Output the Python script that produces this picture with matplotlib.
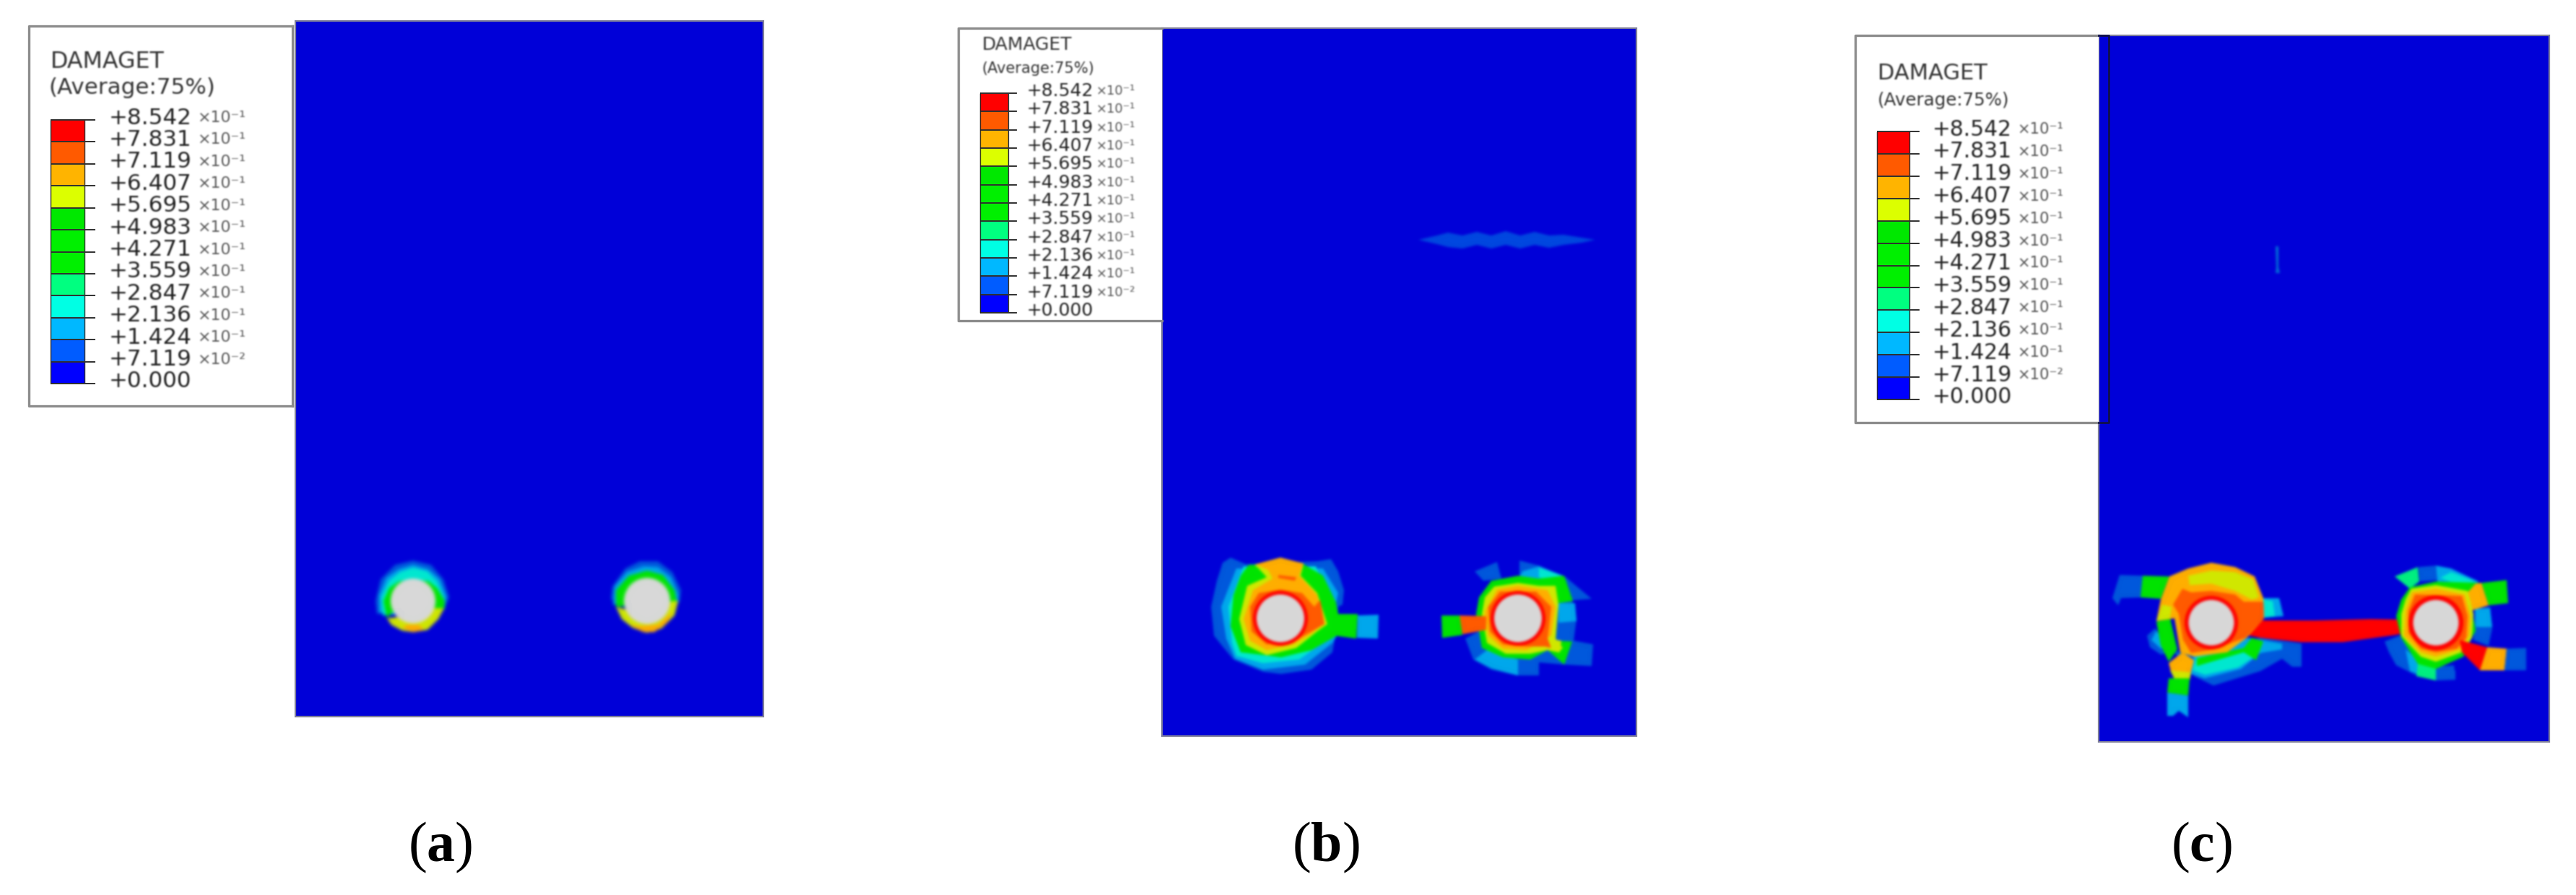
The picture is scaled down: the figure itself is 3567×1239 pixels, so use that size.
"""DAMAGET contour plots of the plate with two holes at three load stages, (a) to (c)."""

import numpy as np
import matplotlib
matplotlib.use("Agg")
import matplotlib.pyplot as plt
from matplotlib.collections import PatchCollection
from matplotlib.patches import Circle, Polygon, Rectangle

plt.rcParams["mathtext.fontset"] = "custom"
plt.rcParams["mathtext.bf"] = "Liberation Serif:bold"

# band colours
RED, RORANGE, ORANGE, YELLOW = "#ff0000", "#ff5a00", "#ffae00", "#d0e800"
GREEN, MINT, TEAL, SKY, AZURE, BLUE = "#00e400", "#00f080", "#00e8d0", "#00a8ec", "#0058dc", "#0000ff"
PLATE, HOLE = "#0000d8", "#d8d8d8"

legend_labels = ["+8.542", "+7.831", "+7.119", "+6.407", "+5.695", "+4.983", "+4.271",
                 "+3.559", "+2.847", "+2.136", "+1.424", "+7.119", "+0.000"]
legend_powers = ["×10⁻¹"] * 11 + ["×10⁻²", ""]
band_colors = ["#ff0000", "#ff5a00", "#ffb400", "#dcff00", "#00e800", "#00f000",
               "#00f000", "#00ff80", "#00ffe4", "#00b8ff", "#005cff", "#0000ff"]
captions = [r"($\mathbf{a}$)", r"($\mathbf{b}$)", r"($\mathbf{c}$)"]

# contour outlines, traced as px offsets from each hole centre, lowest damage first
a_left = [
    (AZURE, [(-50, 18), (-52, 0), (-45, -30), (-25, -50), (0, -56), (25, -50), (42, -30), (50, -5), (44, 8), (0, 12)]),
    (SKY, [(-47, 16), (-47, -8), (-37, -32), (-20, -44), (0, -50), (21, -44), (37, -30), (46, -6), (44, 10)]),
    (TEAL, [(-42, 20), (-44, -5), (-33, -28), (-18, -40), (0, -46), (20, -41), (33, -27), (43, -5), (43, 10)]),
    (GREEN, [(-36, 24), (-41, 0), (-33, -18), (-20, -27), (0, -31), (22, -27), (33, -18), (44, 0), (43, 12), (30, 16), (-30, 16)]),
    (YELLOW, [(-36, 24), (-30, 33), (-15, 41), (0, 43), (20, 40), (35, 25), (43, 10), (30, 10), (0, 20)]),
    (ORANGE, [(-15, 37), (0, 43), (15, 40), (8, 33), (-8, 33)]),
]
a_right = [
    (AZURE, [(-50, -2), (-48, -20), (-30, -45), (-10, -55), (15, -55), (35, -40), (47, -15), (45, 2), (0, 8)]),
    (SKY, [(-47, 5), (-45, -20), (-28, -40), (-5, -48), (15, -47), (33, -33), (43, -10), (43, 2)]),
    (GREEN, [(-43, 8), (-43, -15), (-25, -35), (0, -42), (22, -36), (38, -15), (41, 0), (40, 6), (0, 6)]),
    (YELLOW, [(-43, 8), (-35, 25), (-20, 37), (0, 44), (20, 38), (38, 20), (43, 0), (35, 0), (0, 20)]),
    (ORANGE, [(-25, 33), (-5, 43), (10, 43), (28, 30), (35, 15), (15, 33), (-10, 35)]),
]
b_left = [
    (AZURE, [(-69, -84), (-48, -75), (51, -79), (70, -82), (80, -65), (88, -39), (86, -19), (80, -16), (76, 24),
             (72, 47), (43, 71), (1, 77), (-24, 74), (-65, 57), (-80, 39), (-92, 24), (-96, -16), (-88, -52), (-80, -77)]),
    (SKY, [(-61, -69), (-82, -16), (-75, 28), (-63, 56), (-24, 71), (34, 64), (72, 34), (78, 24), (76, -16), (80, -35), (59, -69)]),
    (TEAL, [(-51, -72), (-72, -16), (-67, 34), (-61, 52), (-24, 62), (26, 57), (72, 24), (76, -6), (49, -72)]),
    (GREEN, [(-44, -74), (32, -75), (59, -59), (77, -22), (80, -6), (78, 24), (43, 44), (1, 54), (-55, 47), (-69, 11), (-65, -32), (-55, -59)]),
    (GREEN, [(78, -6), (107, -6), (105, 28), (76, 24)]),
    (SKY, [(107, -4), (136, -5), (135, 28), (106, 27)]),
    (YELLOW, [(-36, -74), (0, -84), (32, -75), (28, -59), (51, -35), (65, 8), (51, 18), (22, 41), (-19, 51), (-48, 37), (-57, 1), (-46, -45), (-19, -57), (-30, -69)]),
    (ORANGE, [(-34, -75), (0, -84), (32, -76), (26, -59), (51, -32), (59, 8), (43, 21), (18, 36), (-19, 44), (-42, 31), (-51, 1), (-38, -39), (-11, -55), (-17, -67)]),
    (RORANGE, [(0, -40), (30, -35), (47, -16), (55, -26), (61, 8), (47, 16), (18, 32), (-19, 36), (-40, 18), (-42, -16), (-30, -35)]),
    (RORANGE, [(-3, -60), (22, -57), (20, -52), (-3, -56)]),
]
b_right = [
    (AZURE, [(2, -80), (29, -73), (66, -57), (102, -27), (75, -25), (81, 1), (77, 31), (104, 36), (102, 66), (64, 64), (29, 61),
             (29, 79), (-2, 79), (-37, 71), (-62, 57), (-73, 28), (-54, 18), (2, -49)]),
    (AZURE, [(-60, -65), (-29, -78), (-23, -55), (-48, -52)]),
    (SKY, [(2, -57), (6, -65), (29, -72), (62, -59), (50, -45)]),
    (SKY, [(56, -21), (79, -21), (81, 4), (56, 6)]),
    (SKY, [(-60, 57), (-43, 44), (0, 57), (0, 79), (-37, 69)]),
    (TEAL, [(29, -70), (62, -59), (52, -47), (29, -57)]),
    (GREEN, [(-37, -52), (0, -59), (29, -55), (64, -59), (76, -24), (56, -21), (52, 31), (75, 32), (64, 64), (41, 44),
             (17, 57), (-21, 54), (-50, 41), (-58, -6), (-54, -29)]),
    (YELLOW, [(-33, -44), (0, -49), (29, -45), (52, -45), (56, -19), (52, 28), (62, 41), (56, 47), (41, 44), (17, 49), (-17, 49), (-43, 34), (-50, -6), (-46, -29)]),
    (ORANGE, [(-29, -40), (0, -45), (41, -39), (52, -16), (46, 24), (12, 44), (-21, 42), (-41, 24), (-46, -9)]),
    (RORANGE, [(-25, -37), (25, -37), (46, -16), (41, 28), (46, 41), (37, 39), (12, 39), (-21, 36), (-39, 18), (-41, -16)]),
    (YELLOW, [(44, 28), (60, 31), (58, 47), (46, 44)]),
    (GREEN, [(-106, -4), (-80, -4), (-77, 23), (-105, 27)]),
    (RORANGE, [(-81, -4), (-44, -3), (-44, 16), (-77, 22)]),
]
c_left = [
    (AZURE, [(-127, -66), (-95, -65), (-95, -35), (-125, -34), (-129, -24), (-137, -34)]),
    (GREEN, [(-95, -65), (-58, -64), (-70, -33), (-98, -35)]),
    (SKY, [(72, -34), (94, -34), (100, -9), (73, -7)]),
    (TEAL, [(72, -32), (85, -30), (88, -9), (73, -7)]),
    (AZURE, [(-89, 18), (-78, 8), (-24, 74), (3, 87), (68, 67), (98, 50), (112, 61), (125, 61), (125, 29), (68, 21), (-70, 44), (-85, 34)]),
    (SKY, [(52, 21), (98, 29), (98, 37), (68, 42), (41, 64), (-9, 77), (-28, 71), (-24, 44)]),
    (TEAL, [(45, 41), (60, 47), (37, 62), (-9, 72), (-26, 66), (-20, 47)]),
    (SKY, [(-83, 24), (-76, 11), (-62, 34), (-70, 36)]),
    (GREEN, [(-76, -1), (-57, -6), (-47, 37), (-59, 54), (-70, 31)]),
    (GREEN, [(-20, 49), (45, 35), (56, 21), (72, 26), (62, 52), (45, 41), (-20, 60)]),
    (ORANGE, [(-76, -2), (-70, -32), (-58, -64), (-32, -75), (0, -83), (33, -77), (60, -64), (72, -34), (73, -6), (49, 21), (22, 41), (-24, 47), (-43, 41), (-51, -6)]),
    (YELLOW, [(-32, -65), (0, -72), (33, -70), (58, -60), (66, -35), (56, -32), (33, -44), (0, -54), (-30, -52)]),
    (YELLOW, [(-76, -2), (-68, -25), (-55, -22), (-57, -6)]),
    (RORANGE, [(-53, -25), (-40, -47), (-28, -42), (0, -44), (33, -39), (45, -29), (72, -29), (73, -6), (47, 21), (3, 37), (-28, 42), (-39, 24), (-45, -12)]),
    (ORANGE, [(-59, 56), (-40, 41), (-24, 52), (-30, 76), (-56, 67)]),
    (YELLOW, [(-57, 66), (-28, 69), (-30, 80), (-49, 82)]),
    (GREEN, [(-59, 77), (-30, 77), (-32, 101), (-61, 97)]),
    (SKY, [(-61, 97), (-32, 101), (-32, 131), (-45, 122), (-53, 129), (-61, 129)]),
]
c_right = [
    (AZURE, [(-71, 26), (-50, 18), (-2, 64), (27, 66), (27, 79), (-29, 72), (-55, 59), (-65, 41)]),
    (SKY, [(-42, 37), (-21, 54), (-25, 71), (-36, 67)]),
    (MINT, [(-25, 56), (0, 61), (0, 80), (-27, 74)]),
    (AZURE, [(0, 61), (25, 59), (27, 79), (0, 80)]),
    (MINT, [(-57, -64), (-25, -77), (-23, -57), (-36, -47)]),
    (AZURE, [(-24, -77), (0, -79), (2, -59), (-22, -57)]),
    (SKY, [(0, -79), (21, -75), (59, -57), (48, -45), (2, -57)]),
    (TEAL, [(6, -62), (21, -70), (55, -57), (33, -52)]),
    (AZURE, [(54, -19), (75, -21), (78, 8), (73, 32), (52, 24)]),
    (SKY, [(54, -19), (75, -21), (78, 6), (55, 6)]),
    (GREEN, [(63, -55), (98, -59), (100, -27), (73, -24)]),
    (GREEN, [(-36, -49), (0, -57), (63, -55), (50, -17), (55, 11), (48, 24), (38, 47), (0, 64), (-25, 57), (-48, 21), (-55, -9), (-48, -32)]),
    (ORANGE, [(55, -54), (63, -55), (73, -24), (50, -17), (44, -42)]),
    (YELLOW, [(-34, -47), (0, -52), (44, -44), (52, -12), (50, 21), (36, 41), (0, 54), (-21, 47), (-48, 18), (-48, -12), (-42, -32)]),
    (ORANGE, [(-33, -42), (0, -47), (40, -39), (48, -9), (46, 18), (33, 37), (0, 47), (-21, 41), (-44, 18), (-42, -16)]),
    (RORANGE, [(-29, -39), (36, -37), (44, -9), (42, 21), (29, 36), (0, 41), (-21, 36), (-38, 14), (-38, -16)]),
    (ORANGE, [(71, 34), (98, 36), (95, 66), (60, 66)]),
    (AZURE, [(98, 36), (125, 35), (125, 66), (95, 66)]),
    (RED, [(33, 24), (71, 34), (61, 66), (36, 41)]),
]

# free-standing damage, in page px
b_crack = [(1964, 332), (1990, 326), (2005, 322), (2025, 326), (2045, 321), (2065, 326), (2085, 320), (2105, 326),
           (2125, 321), (2145, 326), (2165, 325), (2190, 329), (2209, 332), (2190, 336), (2165, 339), (2145, 343),
           (2125, 339), (2105, 344), (2085, 339), (2065, 344), (2045, 339), (2025, 344), (2005, 342), (1990, 338)]
c_bridge = [(3107, 859), (3206, 859), (3283, 857), (3340, 858), (3340, 874), (3317, 879), (3244, 889), (3187, 889), (3130, 883), (3107, 878)]
c_crack = [(3151, 341), (3155, 341), (3155, 370), (3157, 378), (3151, 378), (3152, 370)]

# page layout of the three panels, px
panels = [
    dict(plate=(409, 1057, 29, 992), box=(40, 405, 36, 562), bar=(70, 117, 166, 531), tick=132, num_x=151, num_px=31,
         exp_x=274, exp_px=22, title=(70, 85, 31.6), avg=(67, 122, 31), cap=(610, 1173), blur=2.4,
         holes=[(572, 832, 31, 0, a_left), (896, 832, 32, 0, a_right)], extra=[]),
    dict(plate=(1609, 2266, 39, 1019), box=(1327, 1609, 39, 444), bar=(1357, 1396, 129, 433), tick=1408, num_x=1421, num_px=25,
         exp_x=1518, exp_px=18, title=(1359, 62, 25), avg=(1359, 95, 21), cap=(1836, 1173), blur=1.8,
         holes=[(1773, 856, 33, 38, b_left), (2102, 856, 33, 38, b_right)], extra=[("#0048e0", b_crack)]),
    dict(plate=(2906, 3530, 49, 1027), box=(2569, 2920, 49, 585), bar=(2599, 2644, 182, 553), tick=2658, num_x=2676, num_px=29.8,
         exp_x=2793, exp_px=21, title=(2600, 101, 30.5), avg=(2600, 139, 24.5), cap=(3048, 1173), blur=1.8,
         holes=[(3062, 862, 31.5, 37, c_left), (3373, 862, 31.5, 38, c_right)], extra=[(RED, c_bridge), ("#0070d8", c_crack)]),
]


def blur(sigma):
    """agg_filter: gaussian blur, the reference is a soft upscaled bitmap."""
    def apply(img, dpi):
        pad = int(3 * sigma) + 1
        a = np.pad(img, ((pad, pad), (pad, pad), (0, 0)))
        a[..., :3] *= a[..., 3:]
        k = np.exp(-0.5 * (np.arange(-pad, pad + 1) / sigma) ** 2)
        k /= k.sum()
        for axis in (0, 1):
            a = sum(w * np.roll(a, i - pad, axis) for i, w in enumerate(k))
        rgb = a[..., :3] / np.maximum(a[..., 3:], 1e-6)
        return np.dstack([rgb.clip(0, 1), a[..., 3]]), -pad, -pad
    return apply


def px_text(ax, x, y, s, px, **kw):
    t = ax.text(x, y, s, fontsize=px * 0.72, va="center", ha="left", **kw)
    return t


fig = plt.figure(figsize=(35.67, 12.39), dpi=100)
ax = fig.add_axes([0, 0, 1, 1])
ax.set_xlim(0, 3567)
ax.set_ylim(1239, 0)
ax.axis("off")

text_blur = blur(1.0)
for cap, p in zip(captions, panels):
    x0, x1, y0, y1 = p["plate"]
    bx0, bx1, by0, by1 = p["box"]
    ax.add_patch(Rectangle((x0, y0), x1 - x0, y1 - y0, fc=PLATE, ec="#7f7f9a", lw=1.6, zorder=1))
    ax.add_patch(Rectangle((bx0, by0), min(bx1, x0) - bx0, by1 - by0, fc="white", ec="none", zorder=2))
    ax.plot([min(bx1, x0), bx0, bx0, min(bx1, x0)], [by0, by0, by1, by1], color="#8c8c8c", lw=2.4, zorder=3)
    if bx1 > x0:    # (c): the legend frame runs on over the plate
        ax.plot([x0, bx1, bx1, x0], [by0, by0, by1, by1], color="#10104a", lw=2.0, zorder=3)
    elif x0 - bx1 > 2:
        ax.plot([bx1, bx1], [by0, by1], color="#8c8c8c", lw=2.4, zorder=3)

    # legend colour bar and labels
    bar_x0, bar_x1, bar_y0, bar_y1 = p["bar"]
    edges = np.linspace(bar_y0, bar_y1, len(band_colors) + 1)
    ax.barh(edges[:-1], bar_x1 - bar_x0, height=np.diff(edges), left=bar_x0, align="edge", color=band_colors, zorder=4)
    ax.hlines(edges, bar_x0, p["tick"], color="#303030", lw=1.4, zorder=5)
    ax.vlines([bar_x0, bar_x1], bar_y0, bar_y1, color="#303030", lw=1.0, zorder=5)
    for y, lab, power in zip(edges, legend_labels, legend_powers):
        px_text(ax, p["num_x"], y - 3, lab, p["num_px"], color="#222222", zorder=6).set_agg_filter(text_blur)
        if power:
            px_text(ax, p["exp_x"], y - 3, power, p["exp_px"], color="#555555", zorder=6).set_agg_filter(text_blur)
    tx, ty, tpx = p["title"]
    px_text(ax, tx, ty, "DAMAGET", tpx, color="#333333", zorder=6).set_agg_filter(text_blur)
    tx, ty, tpx = p["avg"]
    px_text(ax, tx, ty, "(Average:75%)", tpx, color="#333333", zorder=6).set_agg_filter(text_blur)

    # contour patches, blurred together so the bands run into each other
    patches, colors = [], []
    for color, pts in p["extra"]:
        patches.append(Polygon(pts, closed=True))
        colors.append(color)
    for cx, cy, r, ring, shapes in p["holes"]:
        for color, pts in shapes:
            patches.append(Polygon(np.array(pts, float) + (cx, cy), closed=True))
            colors.append(color)
        if ring:
            patches.append(Circle((cx, cy), ring))
            colors.append(RED)
        patches.append(Circle((cx, cy), r))
        colors.append(HOLE)
    coll = PatchCollection(patches, facecolors=colors, edgecolors="none", zorder=2)
    coll.set_agg_filter(blur(p["blur"]))
    ax.add_collection(coll)

    ax.text(*p["cap"], cap, family="Liberation Serif", fontsize=56, ha="center", va="center", color="black")

fig.savefig("out.png", dpi=100)
